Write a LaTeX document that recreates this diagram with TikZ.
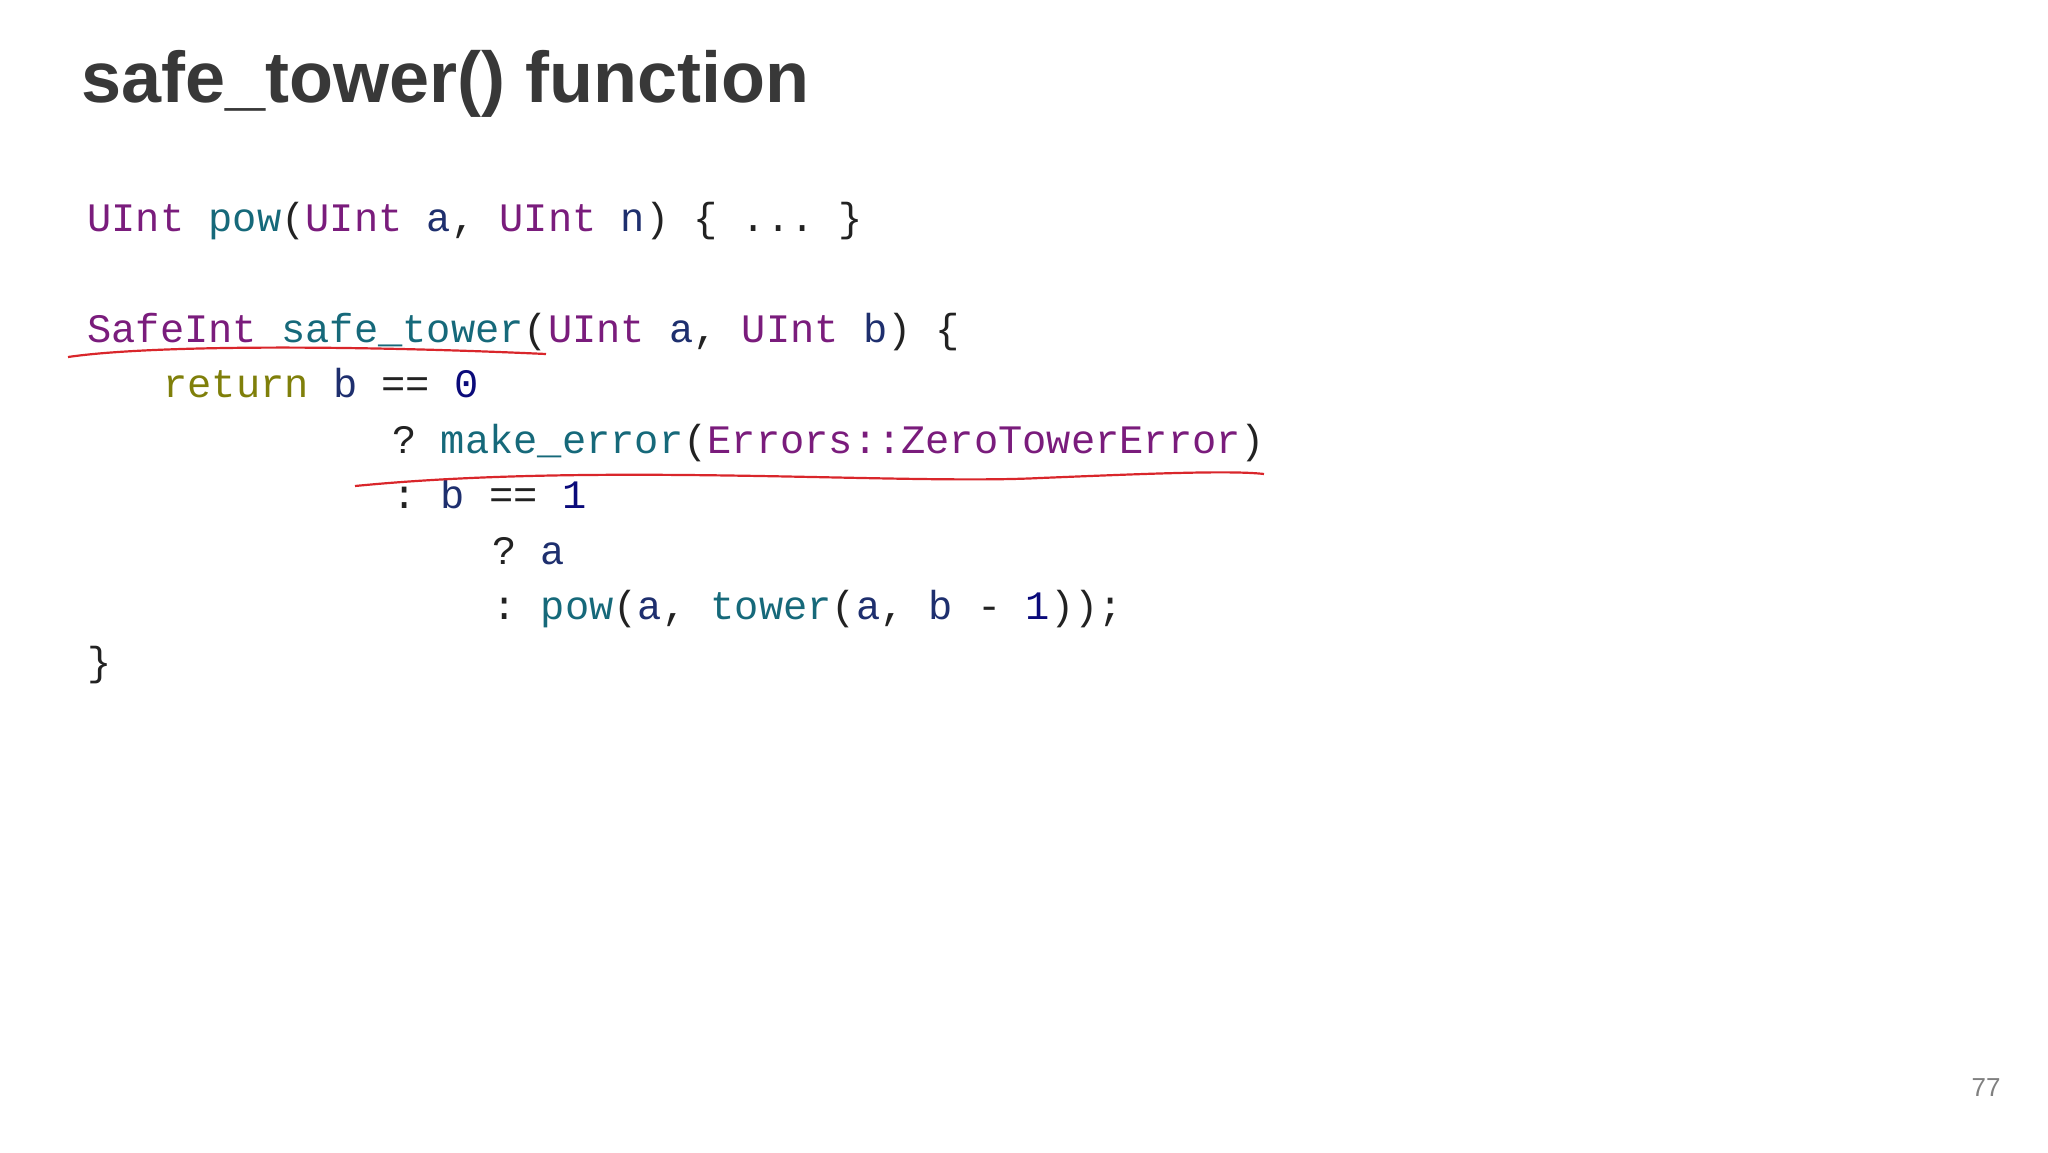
\documentclass[tikz,border=0pt]{standalone}
\usepackage{fontspec}
\setmainfont{Liberation Sans}
\setmonofont{Liberation Mono}
\definecolor{ty}{HTML}{7A1C7C}
\definecolor{fn}{HTML}{16697A}
\definecolor{va}{HTML}{1E2F6E}
\definecolor{kw}{HTML}{7F7F0A}
\definecolor{nu}{HTML}{0A0A7A}
\definecolor{tx}{HTML}{222222}
\definecolor{ul}{HTML}{D9262B}
\newcommand{\T}[1]{\textcolor{ty}{#1}}
\newcommand{\F}[1]{\textcolor{fn}{#1}}
\newcommand{\V}[1]{\textcolor{va}{#1}}
\newcommand{\K}[1]{\textcolor{kw}{#1}}
\newcommand{\N}[1]{\textcolor{nu}{#1}}
\begin{document}
\begin{tikzpicture}[x=0.5pt,y=-0.5pt,
  code/.style={anchor=base west,inner sep=0,font=\ttfamily\fontsize{20.2}{24}\selectfont,text=tx},
  redline/.style={ul,line width=1.1pt}]
\useasboundingbox (0,0) rectangle (2048,1152);
\node[anchor=base west,inner sep=0,font=\bfseries\fontsize{36}{40}\selectfont,text=tx!90] (title) at (81,102) {safe\_tower() function};
\node[code] (l1) at (87,231) {\T{UInt} \F{pow}(\T{UInt} \V{a}, \T{UInt} \V{n}) \{ ... \}};
\node[code] (l3) at (87,342) {\T{SafeInt} \F{safe\_tower}(\T{UInt} \V{a}, \T{UInt} \V{b}) \{};
\node[code] (l4) at (163,397) {\K{return} \V{b} == \N{0}};
\node[code] (l5) at (392,453) {? \F{make\_error}(\T{Errors::ZeroTowerError})};
\node[code] (l6) at (392,508) {: \V{b} == \N{1}};
\node[code] (l7) at (492,564) {? \V{a}};
\node[code] (l8) at (492,619) {: \F{pow}(\V{a}, \F{tower}(\V{a}, \V{b} - \N{1}));};
\node[code] (l9) at (87,675) {\}};
\draw[redline] (68,357) .. controls (150,345) and (350,345) .. (546,354);
\draw[redline] (355,486) .. controls (600,462) and (900,485) .. (1040,478) .. controls (1140,474) and (1230,470) .. (1264,474);
\node[anchor=base east,inner sep=0,font=\fontsize{13}{15}\selectfont,text=gray] (pg) at (2001,1096) {77};
\end{tikzpicture}
\end{document}
